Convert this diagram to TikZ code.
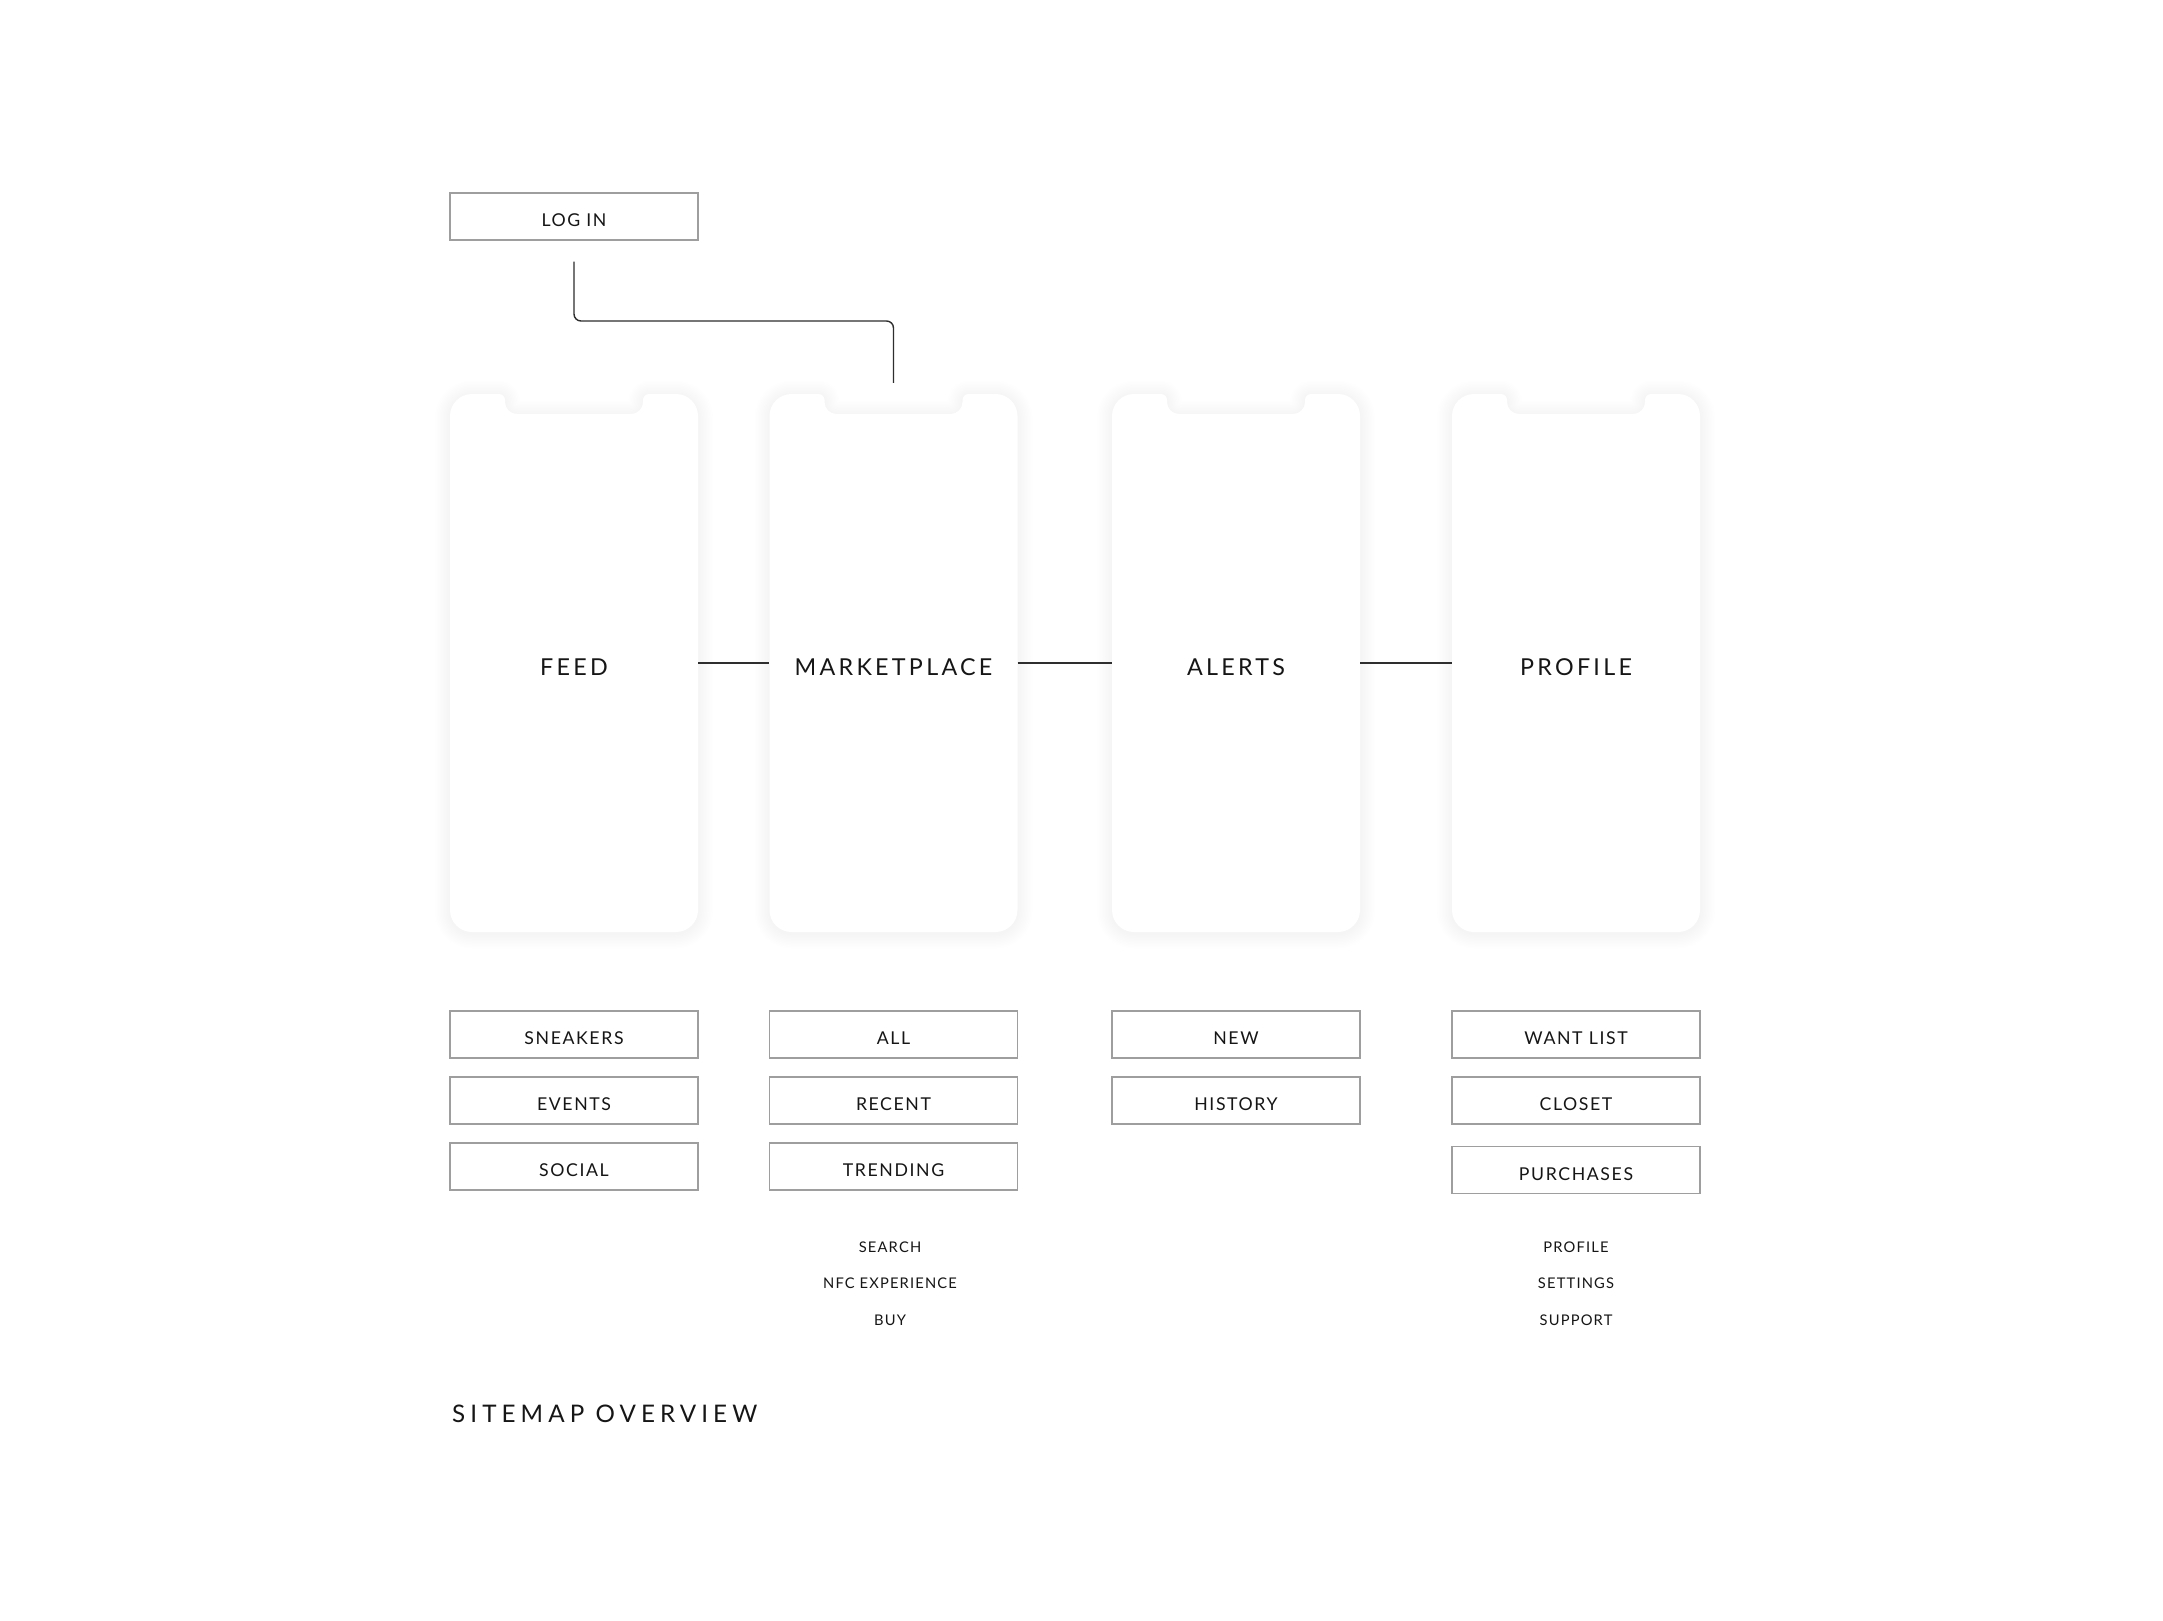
\documentclass[tikz,border=0pt]{standalone}
\usepackage{fontspec}
\setmainfont{Lato}
\newfontfamily\boxfont[LetterSpace=9]{Lato}
\newfontfamily\phonefont[LetterSpace=14]{Lato}
\newfontfamily\smallfont[LetterSpace=8]{Lato}
\newfontfamily\titlefont[LetterSpace=21]{Lato}
\definecolor{ink}{HTML}{161616}
\definecolor{boxline}{HTML}{9E9E9E}
\definecolor{connline}{HTML}{2E2E2E}
\newcommand\phonepath{%
  (0,270) -- (0,22) arc[start angle=180, end angle=270, radius=22]
  -- (49,0) arc[start angle=270, end angle=360, radius=6]
  -- (55,8) arc[start angle=180, end angle=90, radius=12]
  -- (181,20) arc[start angle=90, end angle=0, radius=12]
  -- (193,6) arc[start angle=180, end angle=270, radius=6]
  -- (226,0) arc[start angle=270, end angle=360, radius=22]
  -- (248,516) arc[start angle=0, end angle=90, radius=22]
  -- (22,538) arc[start angle=90, end angle=180, radius=22]
  -- cycle}
\newcommand\phoneshape[1]{%
  \begin{scope}[shift={(#1,394)}]
    \foreach \w in {3,6,...,30}{
      \draw[draw=black, draw opacity=0.0042, line width=\w pt, line join=round]
        [yshift=-1.5pt] \phonepath;
    }
    \fill[white] \phonepath;
  \end{scope}}
\begin{document}
\begin{tikzpicture}[x=1pt,y=-1pt,
  itembox/.style={draw=boxline, line width=1.4pt, minimum width=248pt, minimum height=47pt,
    inner sep=0pt, text=ink, font=\boxfont\fontsize{17.7}{20}\selectfont,
    text height=20pt, text depth=0pt},
  phonenode/.style={minimum width=248pt, minimum height=538pt, inner sep=0pt, text=ink,
    font=\phonefont\fontsize{23.3}{26}\selectfont, text height=25pt, text depth=0pt},
  conn/.style={draw=connline, line width=1.4pt},
  smalltext/.style={inner sep=0pt, text=ink, font=\smallfont\fontsize{14.7}{16}\selectfont,
    text height=10.5pt, text depth=0pt},
  titletext/.style={inner sep=0pt, text=ink, font=\titlefont\fontsize{24.2}{28}\selectfont,
    text height=17.3pt, text depth=0pt}]
\fill[white] (0,0) rectangle (2163,1620);
\useasboundingbox (0,0) rectangle (2163,1620);

% phone bodies
\phoneshape{450}
\phoneshape{769.5}
\phoneshape{1112}
\phoneshape{1452}

% phone nodes
\node[phonenode] (feed)    at (574,663)   {FEED};
\node[phonenode] (market)  at (893.5,663) {MARKETPLACE};
\node[phonenode] (alerts)  at (1236,663)  {ALERTS};
\node[phonenode] (profile) at (1576,663)  {PROFILE};

% log in
\node[itembox] (login) at (574,216.5) {LOG IN};
\coordinate (lstart) at ([yshift=-21pt]login.south);
\coordinate (lend) at ([yshift=11pt]market.north);
\coordinate (lmid) at (0,321);
\draw[conn, rounded corners=7pt] (lstart) -- (lstart |- lmid) -- (lend |- lmid) -- (lend);

% connectors between phones
\draw[conn] (feed) -- (market);
\draw[conn] (market) -- (alerts);
\draw[conn] (alerts) -- (profile);

% feed column
\node[itembox] (sneakers) at (574,1034.5) {SNEAKERS};
\node[itembox] (events)   at (574,1100.5) {EVENTS};
\node[itembox] (social)   at (574,1166.5) {SOCIAL};
% marketplace column
\node[itembox] (all)      at (893.5,1034.5) {ALL};
\node[itembox] (recent)   at (893.5,1100.5) {RECENT};
\node[itembox] (trending) at (893.5,1166.5) {TRENDING};
% alerts column
\node[itembox] (new)      at (1236,1034.5) {NEW};
\node[itembox] (history)  at (1236,1100.5) {HISTORY};
% profile column
\node[itembox] (wantlist)  at (1576,1034.5) {WANT LIST};
\node[itembox] (closet)    at (1576,1100.5) {CLOSET};
\node[itembox] (purchases) at (1576,1170)   {PURCHASES};

% small texts
\node[smalltext] (search) at (890,1247)   {SEARCH};
\node[smalltext] (nfc)    at (890,1283.5) {NFC EXPERIENCE};
\node[smalltext] (buy)    at (890,1320.5) {BUY};
\node[smalltext] (prof)     at (1576,1247)   {PROFILE};
\node[smalltext] (settings) at (1576,1283.5) {SETTINGS};
\node[smalltext] (support)  at (1576,1320.5) {SUPPORT};

% title
\node[titletext, anchor=west] (title) at (452,1414) {SITEMAP OVERVIEW};
\end{tikzpicture}
\end{document}
